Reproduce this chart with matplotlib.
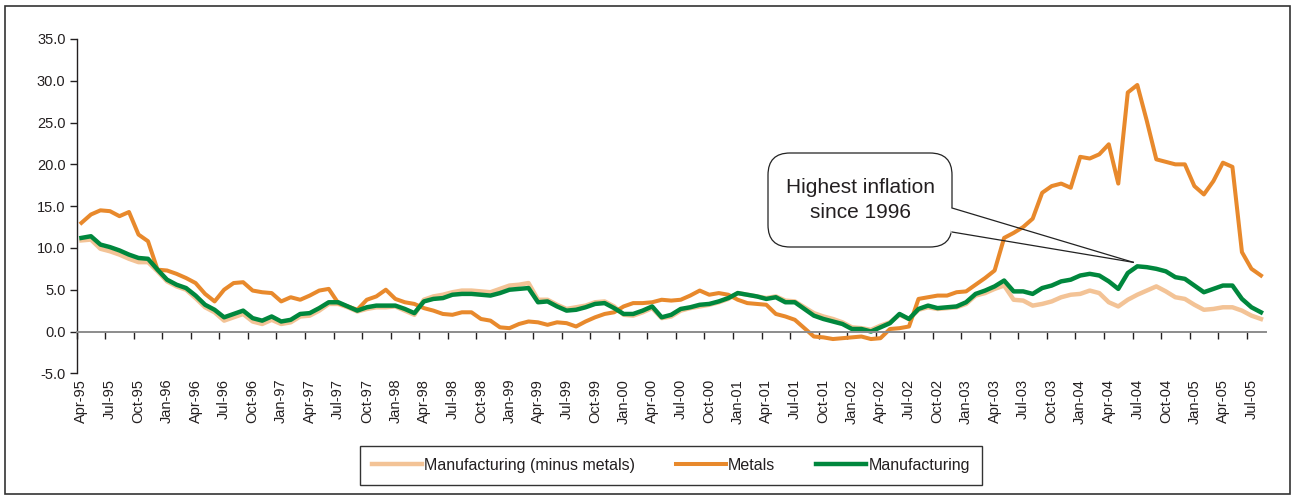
import numpy as np
import pandas as pd
import matplotlib
matplotlib.use("Agg")
import matplotlib.pyplot as plt
from matplotlib.ticker import FormatStrFormatter
from matplotlib.patches import FancyBboxPatch, Rectangle
from matplotlib.lines import Line2D

plt.rcParams["font.family"] = ["Liberation Sans", "DejaVu Sans"]
plt.rcParams["axes.unicode_minus"] = False

# monthly categories, Apr-95 .. Aug-05
months = pd.date_range("1995-04-01", periods=125, freq="MS").strftime("%b-%y").tolist()

# annual inflation, %
metals = [
    13.0, 14.0, 14.5, 14.4, 13.8, 14.3, 11.6, 10.8, 7.4, 7.3,
    6.9, 6.4, 5.8, 4.5, 3.6, 5.0, 5.8, 5.9, 4.9, 4.7,
    4.6, 3.6, 4.1, 3.8, 4.3, 4.9, 5.1, 3.4, 3.0, 2.6,
    3.8, 4.2, 5.0, 3.9, 3.5, 3.3, 2.8, 2.5, 2.1, 2.0,
    2.3, 2.3, 1.5, 1.3, 0.5, 0.4, 0.9, 1.2, 1.1, 0.8,
    1.1, 1.0, 0.6, 1.2, 1.7, 2.1, 2.3, 3.0, 3.4, 3.4,
    3.5, 3.8, 3.7, 3.8, 4.3, 4.9, 4.4, 4.6, 4.4, 3.8,
    3.4, 3.3, 3.2, 2.1, 1.8, 1.4, 0.4, -0.6, -0.7, -0.9,
    -0.8, -0.7, -0.6, -0.9, -0.8, 0.3, 0.4, 0.6, 3.9, 4.1,
    4.3, 4.3, 4.7, 4.8, 5.6, 6.4, 7.3, 11.2, 11.8, 12.5,
    13.5, 16.6, 17.4, 17.7, 17.2, 20.9, 20.7, 21.2, 22.4, 17.7,
    28.6, 29.5, 25.2, 20.6, 20.3, 20.0, 20.0, 17.4, 16.4, 18.0,
    20.2, 19.7, 9.5, 7.5, 6.7,
]

manufacturing = [
    11.2, 11.4, 10.4, 10.1, 9.7, 9.2, 8.8, 8.7, 7.4, 6.2,
    5.6, 5.2, 4.3, 3.2, 2.6, 1.7, 2.1, 2.5, 1.6, 1.3,
    1.8, 1.2, 1.4, 2.1, 2.2, 2.8, 3.5, 3.5, 3.0, 2.5,
    2.9, 3.1, 3.1, 3.1, 2.7, 2.2, 3.6, 3.9, 4.0, 4.4,
    4.5, 4.5, 4.4, 4.3, 4.6, 5.0, 5.1, 5.2, 3.5, 3.6,
    3.0, 2.5, 2.6, 2.9, 3.3, 3.4, 2.8, 2.1, 2.1, 2.5,
    3.0, 1.7, 2.0, 2.7, 2.9, 3.2, 3.3, 3.6, 4.0, 4.6,
    4.4, 4.2, 3.9, 4.1, 3.5, 3.5, 2.7, 1.9, 1.5, 1.2,
    0.9, 0.3, 0.3, 0.0, 0.5, 1.0, 2.1, 1.5, 2.7, 3.1,
    2.8, 2.9, 3.0, 3.5, 4.5, 4.9, 5.4, 6.1, 4.8, 4.8,
    4.5, 5.2, 5.5, 6.0, 6.2, 6.7, 6.9, 6.7, 6.0, 5.1,
    7.0, 7.8, 7.7, 7.5, 7.2, 6.5, 6.3, 5.5, 4.7, 5.1,
    5.5, 5.5, 3.9, 2.9, 2.3,
]

manuf_minus_metals = [
    10.9, 11.0, 9.9, 9.6, 9.2, 8.7, 8.3, 8.3, 7.2, 6.0,
    5.4, 5.0, 4.0, 2.9, 2.3, 1.3, 1.7, 2.1, 1.2, 0.9,
    1.4, 0.9, 1.1, 1.8, 1.9, 2.5, 3.3, 3.3, 2.9, 2.4,
    2.7, 2.9, 2.9, 3.0, 2.5, 2.0, 3.8, 4.2, 4.4, 4.7,
    4.9, 4.9, 4.8, 4.7, 5.1, 5.5, 5.6, 5.8, 3.8, 3.8,
    3.2, 2.7, 2.9, 3.1, 3.5, 3.6, 3.0, 2.0, 1.9, 2.3,
    2.8, 1.6, 1.8, 2.5, 2.8, 3.0, 3.2, 3.5, 3.9, 4.6,
    4.4, 4.2, 4.0, 4.2, 3.7, 3.6, 2.9, 2.2, 1.8, 1.5,
    1.1, 0.5, 0.4, 0.2, 0.7, 1.1, 2.0, 1.5, 2.6, 2.9,
    2.7, 2.8, 2.9, 3.3, 4.3, 4.6, 5.1, 5.5, 3.8, 3.7,
    3.1, 3.3, 3.6, 4.1, 4.4, 4.5, 4.9, 4.6, 3.5, 3.0,
    3.8, 4.4, 4.9, 5.4, 4.8, 4.1, 3.9, 3.2, 2.6, 2.7,
    2.9, 2.9, 2.5, 1.9, 1.5,
]

x = np.arange(len(months))
txt = "#231f20"

fig = plt.figure(figsize=(12.93, 4.98), dpi=100)
ax = fig.add_axes([0.0593, 0.2504, 0.9196, 0.6713])

ax.plot(x, manuf_minus_metals, color="#F3C396", lw=3.2, label="Manufacturing (minus metals)")
ax.plot(x, metals, color="#E8892C", lw=2.9, label="Metals")
ax.plot(x, manufacturing, color="#00873D", lw=3.2, label="Manufacturing")

ax.set_xlim(-0.5, len(months) - 0.5)
ax.set_ylim(-5, 35)
ax.set_yticks(np.arange(-5, 36, 5))
ax.yaxis.set_major_formatter(FormatStrFormatter("%.1f"))

for s in ["top", "right"]:
    ax.spines[s].set_visible(False)
ax.spines["left"].set_color(txt)
ax.spines["left"].set_linewidth(1.0)
ax.spines["bottom"].set_position(("data", 0))
ax.spines["bottom"].set_color("#8c8c8c")
ax.spines["bottom"].set_linewidth(1.4)

# tick marks between categories, on the zero line
ax.set_xticks(np.arange(-0.5, len(months), 3))
ax.tick_params(axis="x", length=5, width=1, color=txt, labelbottom=False)
ax.tick_params(axis="y", length=5, width=1, color=txt, labelsize=10.5,
               labelcolor=txt, pad=3)

# category labels at the bottom of the plot
sec = ax.secondary_xaxis("bottom")
sec.set_xticks(x[::3], labels=months[::3])
sec.tick_params(length=0, labelsize=10.5, labelrotation=90, pad=4, labelcolor=txt)
sec.spines["bottom"].set_visible(False)

leg = fig.legend(loc="center", bbox_to_anchor=(671 / 1293, 32.5 / 498), ncol=3,
                 fontsize=11.5, handlelength=3.13, handletextpad=0.12,
                 columnspacing=2.57, fancybox=False, edgecolor="black",
                 borderpad=0.75)
leg.get_frame().set_linewidth(1.0)
for t in leg.get_texts():
    t.set_color(txt)

# callout bubble
inch = fig.dpi_scale_trans
bx, by, bw, bh = 7.68, 2.51, 1.84, 0.94
bubble = FancyBboxPatch((bx, by), bw, bh, boxstyle="round,pad=0,rounding_size=0.22",
                        transform=inch, fc="white", ec="#222222", lw=0.9, zorder=5)
fig.add_artist(bubble)
fig.text(bx + bw / 2, by + bh / 2, "Highest inflation\nsince 1996", transform=inch,
         ha="center", va="center", fontsize=15, linespacing=1.35, color=txt, zorder=6)

# highest manufacturing value since Jan-96
start = months.index("Jan-96")
peak = start + int(np.argmax(manufacturing[start:]))
tip = ax.transData.transform((peak, manufacturing[peak])) / fig.dpi + np.array([-0.04, 0.04])
y_hi, y_lo = 2.90, 2.66
fig.add_artist(Line2D([bx + bw, bx + bw], [y_lo + 0.01, y_hi - 0.01], transform=inch,
                      color="white", lw=2.5, zorder=6))
fig.add_artist(Line2D([bx + bw, tip[0]], [y_hi, tip[1]], transform=inch,
                      color="#222222", lw=0.9, zorder=6))
fig.add_artist(Line2D([bx + bw, tip[0]], [y_lo, tip[1]], transform=inch,
                      color="#222222", lw=0.9, zorder=6))

# outer frame
fig.add_artist(Rectangle((0.05, 0.04), 12.85, 4.88, transform=inch, fill=False,
                         ec="#333333", lw=1.2))

fig.savefig("out.png", dpi=100)
